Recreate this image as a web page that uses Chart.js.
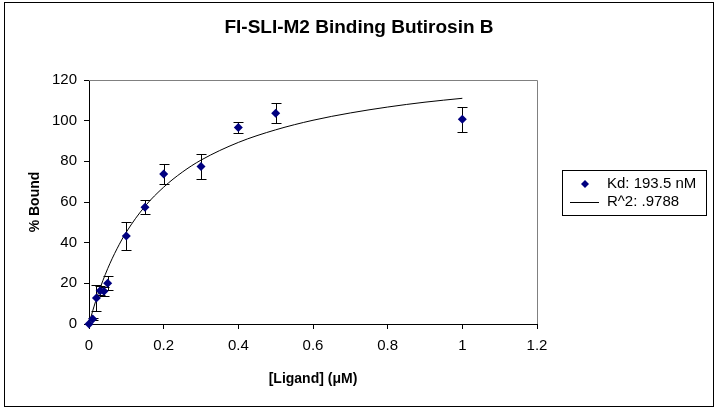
<!DOCTYPE html>
<html>
<head>
<meta charset="utf-8">
<script src="https://cdn.jsdelivr.net/npm/chart.js@4.4.1/dist/chart.umd.min.js"></script>
<style>
html, body { margin: 0; padding: 0; background: #fff; }
</style>
</head>
<body>
<canvas id="mychart" width="719" height="410"></canvas>
<script>
// measured points: ligand conc (uM), % bound, error (+/-)
const ligand = [0, 0.01, 0.02, 0.03, 0.04, 0.05, 0.1, 0.15, 0.2, 0.3, 0.4, 0.5, 1];
const bound = [0, 2.5, 12.8, 16.4, 16.1, 20.0, 43.3, 57.4, 73.8, 77.4, 96.7, 103.6, 100.7];
const boundErr = [0, 0.5, 6.3, 2.3, 2.3, 3.5, 6.8, 3.5, 4.9, 6.2, 2.8, 4.9, 6.2];

// fitted curve
const fitX = [0, 0.01, 0.025, 0.05, 0.075, 0.1, 0.15, 0.2, 0.25, 0.3, 0.4, 0.5, 0.6, 0.7, 0.8, 0.9, 1];
const fitY = [0, 6.5, 15.2, 27.2, 37.0, 45.2, 57.9, 67.3, 74.7, 80.6, 89.3, 95.5, 100.2, 103.8, 106.7, 109.1, 111.0];

const xTicks = [0, 0.2, 0.4, 0.6, 0.8, 1, 1.2];
const yTicks = [0, 20, 40, 60, 80, 100, 120];

const chartTitle = 'FI-SLI-M2 Binding Butirosin B';
const seriesNames = ['Kd: 193.5 nM', 'R^2: .9788'];
const navy = '#000080';
const fontFamily = '"Liberation Sans", Arial, sans-serif';

Chart.defaults.font.family = fontFamily;
Chart.defaults.color = '#000';

// outer frame, white background, title over the whole canvas
const frame = {
    id: 'frame',
    beforeDraw(chart) {
        const c = chart.ctx;
        c.save();
        c.fillStyle = '#fff';
        c.fillRect(0, 0, chart.width, chart.height);
        c.strokeStyle = '#000';
        c.lineWidth = 1;
        c.strokeRect(4.5, 2.5, chart.width - 10, chart.height - 6);
        c.fillStyle = '#000';
        c.font = 'bold 19px ' + fontFamily;
        c.textAlign = 'center';
        c.textBaseline = 'middle';
        c.fillText(chartTitle, 359, 27.5);
        c.restore();
    },
    afterDraw(chart) {
        // grey top / right edges of the plot area
        const a = chart.chartArea;
        const c = chart.ctx;
        c.save();
        c.strokeStyle = '#808080';
        c.lineWidth = 1;
        c.beginPath();
        c.moveTo(a.left, Math.round(a.top) + 0.5);
        c.lineTo(Math.round(a.right) + 0.5, Math.round(a.top) + 0.5);
        c.lineTo(Math.round(a.right) + 0.5, a.bottom);
        c.stroke();
        c.restore();
    }
};

const errorBars = {
    id: 'errorBars',
    beforeDatasetsDraw(chart) {
        const c = chart.ctx;
        const x = chart.scales.x, y = chart.scales.y;
        c.save();
        c.strokeStyle = '#000';
        c.lineWidth = 1;
        ligand.forEach((v, i) => {
            if (!boundErr[i]) return;
            const px = Math.round(x.getPixelForValue(v)) + 0.5;
            const t = Math.round(y.getPixelForValue(bound[i] + boundErr[i])) + 0.5;
            const b = Math.round(y.getPixelForValue(bound[i] - boundErr[i])) + 0.5;
            c.beginPath();
            c.moveTo(px, t); c.lineTo(px, b);
            c.moveTo(px - 5, t); c.lineTo(px + 5, t);
            c.moveTo(px - 5, b); c.lineTo(px + 5, b);
            c.stroke();
        });
        c.restore();
    }
};

// boxed legend to the right of the plot
const legendBox = {
    id: 'legendBox',
    afterDraw(chart) {
        const c = chart.ctx;
        const left = chart.chartArea.right + 25, top = 170, w = 144, h = 45;
        c.save();
        c.strokeStyle = '#000';
        c.lineWidth = 1;
        c.strokeRect(left + 0.5, top + 0.5, w, h);
        c.font = '15px ' + fontFamily;
        c.textBaseline = 'middle';
        const row1 = top + 14, row2 = top + 32;
        // diamond
        c.fillStyle = navy;
        c.beginPath();
        c.moveTo(left + 23, row1 - 4);
        c.lineTo(left + 27, row1);
        c.lineTo(left + 23, row1 + 4);
        c.lineTo(left + 19, row1);
        c.closePath();
        c.fill();
        // line sample
        c.beginPath();
        c.moveTo(left + 8, row2 + 0.5);
        c.lineTo(left + 37, row2 + 0.5);
        c.strokeStyle = '#000';
        c.stroke();
        c.fillStyle = '#000';
        c.fillText(chart.data.datasets[0].label, left + 45, row1);
        c.fillText(chart.data.datasets[1].label, left + 45, row2);
        c.restore();
    }
};

const ctx = document.getElementById('mychart').getContext('2d');

const chart = new Chart(ctx, {
    type: 'scatter',
    data: {
        datasets: [{
            label: seriesNames[0],
            data: ligand.map((v, i) => ({x: v, y: bound[i]})),
            pointStyle: 'rectRot',
            pointRadius: 4.5,
            backgroundColor: navy,
            borderColor: navy,
            borderWidth: 0,
            clip: false
        }, {
            label: seriesNames[1],
            type: 'line',
            data: fitX.map((v, i) => ({x: v, y: fitY[i]})),
            showLine: true,
            pointRadius: 0,
            borderColor: '#000',
            borderWidth: 1,
            cubicInterpolationMode: 'monotone',
            fill: false
        }]
    },
    options: {
        responsive: false,
        animation: false,
        layout: { padding: { left: 0, right: 182, top: 80, bottom: 0 } },
        plugins: {
            legend: { display: false },
            tooltip: { enabled: false },
            title: { display: false }
        },
        scales: {
            x: {
                type: 'linear',
                min: 0,
                max: 1.2,
                afterFit: s => { s.height = 86; },
                afterBuildTicks: s => { s.ticks = xTicks.map(v => ({value: v})); },
                grid: { drawOnChartArea: false, drawTicks: true, tickLength: 5, color: '#000' },
                border: { display: true, color: '#000', width: 1 },
                ticks: {
                    font: { size: 15 },
                    padding: 8,
                    maxRotation: 0,
                    callback: v => String(Number(v.toFixed(1)))
                },
                title: {
                    display: true,
                    text: '[Ligand] (μM)',
                    font: { size: 14, weight: 'bold' },
                    padding: { top: 0, bottom: 22 }
                }
            },
            y: {
                min: 0,
                max: 120,
                afterFit: s => { s.width = 89; },
                afterBuildTicks: s => { s.ticks = yTicks.map(v => ({value: v})); },
                grid: { drawOnChartArea: false, drawTicks: true, tickLength: 5, color: '#000' },
                border: { display: true, color: '#000', width: 1 },
                ticks: { font: { size: 15 }, padding: 7 },
                title: {
                    display: true,
                    text: '% Bound',
                    font: { size: 14, weight: 'bold' },
                    padding: { top: 27, bottom: 0 }
                }
            }
        }
    },
    plugins: [frame, errorBars, legendBox]
});
</script>
</body>
</html>
